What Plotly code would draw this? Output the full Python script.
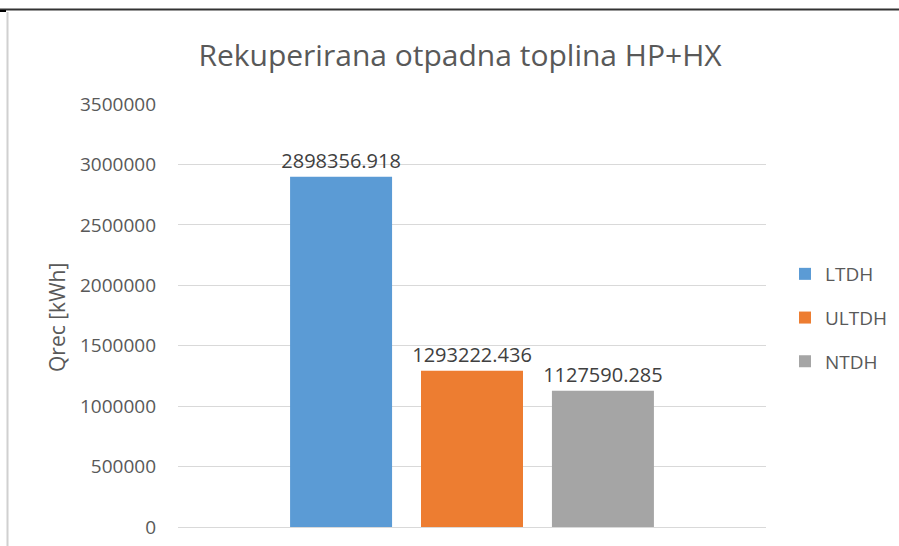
import plotly.graph_objects as go

categories = ["Qrec"]
series_names = ["LTDH", "ULTDH", "NTDH"]
series_values = [2898356.918, 1293222.436, 1127590.285]
series_labels = ["2898356.918", "1293222.436", "1127590.285"]
series_colors = ["#5b9bd5", "#ed7d31", "#a5a5a5"]
tick_values = [0, 500000, 1000000, 1500000, 2000000, 2500000, 3000000, 3500000]
tick_labels = ["0", "500000", "1000000", "1500000", "2000000", "2500000", "3000000", "3500000"]

W, H = 899, 546
L, R, T, B = 178, 766, 104, 527
pw, ph = R - L, B - T

def px(x):
    return (x - L) / pw

def py(y):
    return (B - y) / ph

FONT = "Open Sans, Noto Sans, sans-serif"

fig = go.Figure()
for i, (name, val, lab, col) in enumerate(zip(series_names, series_values, series_labels, series_colors)):
    fig.add_trace(go.Bar(
        x=categories, y=[val], name=name, marker=dict(color=col, line=dict(width=0)),
        text=[lab], textposition="outside", cliponaxis=False, constraintext="none",
        textfont=dict(size=20, color="#404040", family=FONT),
        legendgroup=name,
    ))

fig.update_layout(
    width=W, height=H,
    margin=dict(l=L, r=W - R, t=T, b=H - B, pad=0, autoexpand=False),
    paper_bgcolor="white", plot_bgcolor="white",
    barmode="group", bargap=0.332, bargroupgap=0.221,
    title=dict(text="Rekuperirana otpadna toplina HP+HX", x=460 / W, xanchor="center",
               y=1 - 55 / H, yanchor="middle", xref="container", yref="container",
               font=dict(size=30, color="#595959", family=FONT)),
    xaxis=dict(showticklabels=False, showgrid=False, zeroline=False, showline=False, automargin=False),
    yaxis=dict(range=[0, 3500000], tickvals=tick_values, ticktext=tick_labels,
               showgrid=True, gridcolor="#d9d9d9", gridwidth=1, zeroline=True,
               zerolinecolor="#d9d9d9", zerolinewidth=1, showline=False,
               ticks="", ticklabelstandoff=21, automargin=False,
               tickfont=dict(size=19, color="#595959", family=FONT)),
    legend=dict(x=px(785), y=py(318), xanchor="left", yanchor="middle",
                font=dict(size=19, color="#595959", family=FONT),
                traceorder="grouped", tracegroupgap=16, itemwidth=30,
                bgcolor="rgba(0,0,0,0)"),
    showlegend=True,
    font=dict(family=FONT),
)

fig.add_annotation(text="Qrec [kWh]", textangle=-90, x=px(57), y=py(318),
                   xref="paper", yref="paper", xanchor="center", yanchor="middle",
                   showarrow=False,
                   font=dict(size=21, color="#595959", family=FONT))

# frame lines
fig.add_shape(type="line", xref="paper", yref="paper", x0=px(0), x1=px(899), y0=py(9.5), y1=py(9.5),
              line=dict(color="#333333", width=2))
fig.add_shape(type="line", xref="paper", yref="paper", x0=px(7.5), x1=px(7.5), y0=py(12), y1=py(546),
              line=dict(color="#d0d0d0", width=2))
fig.add_shape(type="line", xref="paper", yref="paper", x0=px(0), x1=px(6), y0=py(11), y1=py(11),
              line=dict(color="#000000", width=2))

fig.write_html("out.html", config={"displayModeBar": False},
               post_script="document.body.style.margin='0';document.body.style.overflow='hidden';")
